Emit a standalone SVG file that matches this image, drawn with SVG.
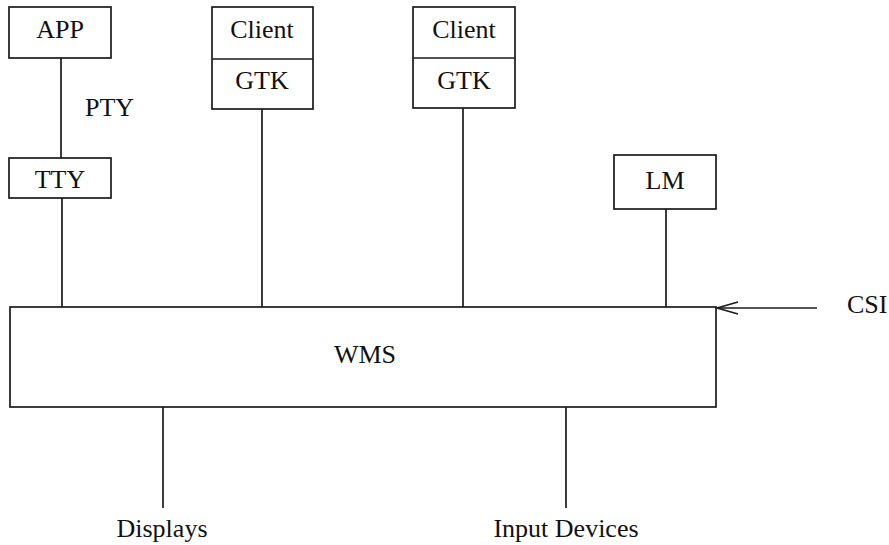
<svg xmlns="http://www.w3.org/2000/svg" width="889" height="545" viewBox="0 0 889 545">
  <style>
    .box { fill: none; stroke: #1a1a1a; stroke-width: 1.7; }
    .wire { fill: none; stroke: #1a1a1a; stroke-width: 1.7; }
    text { font-family: "Liberation Serif", "DejaVu Serif", "Times New Roman", Times, serif; font-size: 26px; fill: #111; }
    .c { text-anchor: middle; }
  </style>
  <defs>
    <marker id="open" markerWidth="24" markerHeight="16" refX="22" refY="7" orient="auto" markerUnits="userSpaceOnUse">
      <path d="M1,1 L22,7 L1,13" fill="none" stroke="#1a1a1a" stroke-width="1.7"/>
    </marker>
  </defs>
  <rect width="889" height="545" fill="#fff"/>

  <!-- connectors -->
  <g id="connectors">
    <line class="wire" x1="61" y1="58" x2="61" y2="158"/>
    <line class="wire" x1="62" y1="198" x2="62" y2="307"/>
    <line class="wire" x1="262" y1="109" x2="262" y2="307"/>
    <line class="wire" x1="463" y1="108" x2="463" y2="307"/>
    <line class="wire" x1="666" y1="209" x2="666" y2="307"/>
    <line class="wire" x1="163" y1="407" x2="163" y2="508"/>
    <line class="wire" x1="566" y1="407" x2="566" y2="508"/>
    <line class="wire" x1="817" y1="308" x2="717" y2="308" marker-end="url(#open)"/>
    <text x="85" y="116" font-family="Liberation Serif, serif">PTY</text>
    <text x="847" y="313" font-family="Liberation Serif, serif">CSI</text>
    <text class="c" x="162" y="537" font-family="Liberation Serif, serif">Displays</text>
    <text class="c" x="566" y="537" font-family="Liberation Serif, serif">Input Devices</text>
  </g>

  <g id="app">
    <rect class="box" x="9" y="7" width="102" height="51"/>
    <text class="c" x="60" y="38">APP</text>
  </g>

  <g id="tty">
    <rect class="box" x="9" y="158" width="102" height="40"/>
    <text class="c" x="60" y="188">TTY</text>
  </g>

  <g id="client1">
    <rect class="box" x="212" y="7" width="101" height="102"/>
    <line class="box" x1="212" y1="59" x2="313" y2="59"/>
    <text class="c" x="262" y="38">Client</text>
    <text class="c" x="262" y="89">GTK</text>
  </g>

  <g id="client2">
    <rect class="box" x="413" y="7" width="102" height="101"/>
    <line class="box" x1="413" y1="58" x2="515" y2="58"/>
    <text class="c" x="464" y="38">Client</text>
    <text class="c" x="464" y="89">GTK</text>
  </g>

  <g id="lm">
    <rect class="box" x="614" y="155" width="102" height="54"/>
    <text class="c" x="665" y="189">LM</text>
  </g>

  <g id="wms">
    <rect class="box" x="10" y="307" width="706" height="100"/>
    <text class="c" x="365" y="363">WMS</text>
  </g>
</svg>
